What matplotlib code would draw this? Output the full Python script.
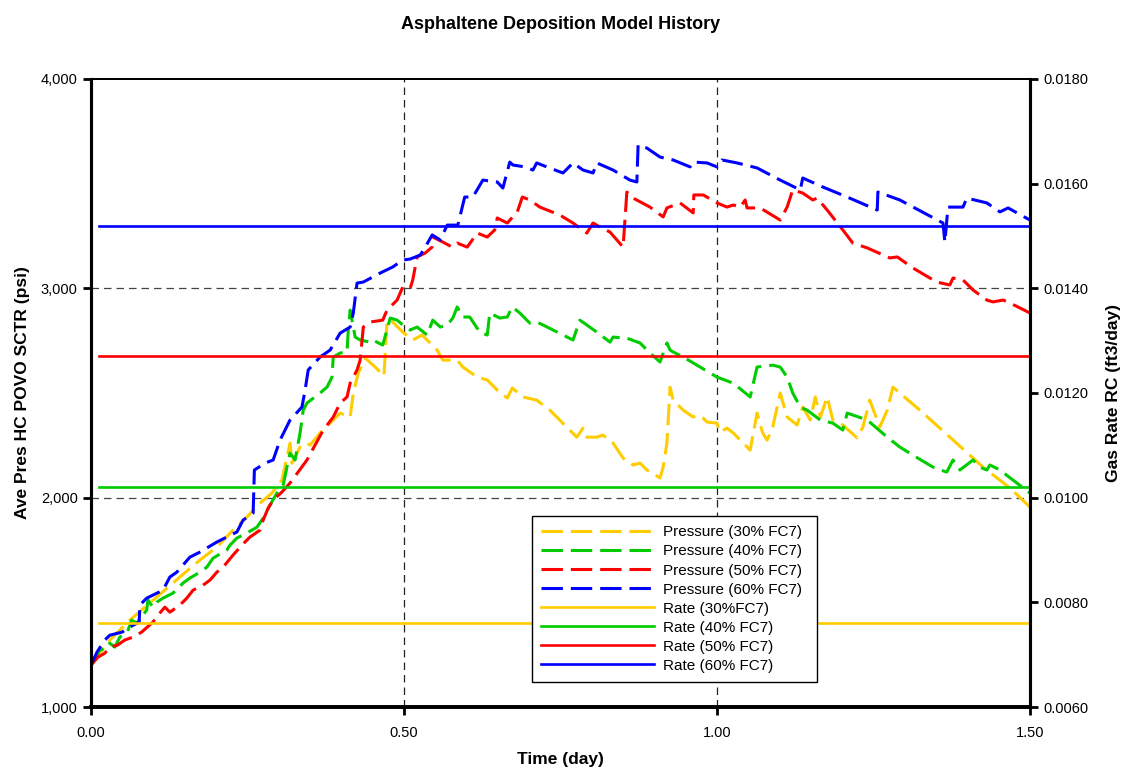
import matplotlib.pyplot as plt
from matplotlib.ticker import FuncFormatter, FormatStrFormatter

plt.rcParams['font.family'] = ['Liberation Sans', 'DejaVu Sans']

# pressure, 30% FC7
t30 = [0, 0.030, 0.062, 0.105, 0.142, 0.174, 0.201, 0.227, 0.249, 0.270, 0.289, 0.305,
       0.318, 0.321, 0.334, 0.345, 0.350, 0.366, 0.382, 0.398, 0.414, 0.419, 0.427, 0.438,
       0.454, 0.468, 0.473, 0.482, 0.498, 0.514, 0.529, 0.553, 0.562, 0.585, 0.594, 0.617,
       0.633, 0.649, 0.665, 0.673, 0.690, 0.712, 0.733, 0.760, 0.776, 0.786, 0.792, 0.808,
       0.818, 0.834, 0.850, 0.866, 0.877, 0.888, 0.909, 0.914, 0.920, 0.925, 0.930, 0.946,
       0.962, 0.968, 0.978, 0.984, 1.000, 1.005, 1.016, 1.026, 1.053, 1.064, 1.073, 1.080,
       1.089, 1.101, 1.112, 1.128, 1.137, 1.149, 1.157, 1.165, 1.176, 1.185, 1.201, 1.224,
       1.233, 1.244, 1.260, 1.272, 1.281, 1.324, 1.372, 1.425, 1.468, 1.500]
p30 = [1200, 1320, 1415, 1525, 1621, 1702, 1764, 1845, 1907, 1974, 2022, 2084,
       2261, 2165, 2242, 2261, 2251, 2309, 2356, 2404, 2385, 2500, 2595, 2667,
       2624, 2581, 2849, 2839, 2791, 2753, 2777, 2705, 2657, 2657, 2624, 2576,
       2562, 2514, 2476, 2524, 2481, 2466, 2418, 2337, 2289, 2332, 2289, 2289,
       2299, 2261, 2189, 2156, 2165, 2132, 2094, 2146, 2261, 2528, 2466, 2418,
       2385, 2394, 2380, 2361, 2356, 2313, 2332, 2309, 2227, 2404, 2309, 2275,
       2337, 2500, 2385, 2347, 2433, 2371, 2481, 2385, 2481, 2371, 2347, 2285,
       2337, 2466, 2337, 2418, 2528, 2418, 2289, 2146, 2046, 1955]

# pressure, 40% FC7
t40 = [0, 0.014, 0.026, 0.030, 0.038, 0.046, 0.058, 0.065, 0.073, 0.089, 0.091, 0.099,
       0.105, 0.115, 0.131, 0.147, 0.158, 0.174, 0.185, 0.195, 0.217, 0.222, 0.233, 0.249,
       0.265, 0.275, 0.286, 0.297, 0.307, 0.313, 0.318, 0.326, 0.334, 0.339, 0.345, 0.366,
       0.377, 0.385, 0.387, 0.398, 0.409, 0.411, 0.414, 0.422, 0.430, 0.446, 0.450, 0.466,
       0.478, 0.489, 0.502, 0.510, 0.521, 0.537, 0.546, 0.558, 0.569, 0.578, 0.585, 0.594,
       0.605, 0.621, 0.633, 0.637, 0.653, 0.665, 0.673, 0.685, 0.701, 0.712, 0.722, 0.738,
       0.754, 0.770, 0.781, 0.808, 0.829, 0.834, 0.856, 0.877, 0.893, 0.909, 0.920, 0.925,
       0.930, 0.946, 0.973, 1.000, 1.026, 1.053, 1.064, 1.089, 1.101, 1.112, 1.121, 1.133,
       1.144, 1.165, 1.185, 1.201, 1.208, 1.240, 1.272, 1.292, 1.313, 1.345, 1.367, 1.377,
       1.388, 1.409, 1.420, 1.431, 1.436, 1.452, 1.479, 1.500]
p40 = [1200, 1272, 1281, 1305, 1286, 1334, 1358, 1415, 1401, 1463, 1511, 1477,
       1501, 1520, 1544, 1592, 1616, 1644, 1668, 1711, 1750, 1773, 1807, 1831,
       1859, 1902, 1965, 2022, 2060, 2146, 2213, 2180, 2309, 2418, 2452, 2500,
       2528, 2576, 2672, 2691, 2696, 2801, 2896, 2767, 2753, 2743, 2753, 2729,
       2858, 2848, 2815, 2801, 2815, 2777, 2848, 2815, 2825, 2858, 2911, 2863,
       2863, 2791, 2777, 2882, 2858, 2863, 2911, 2882, 2834, 2839, 2825, 2801,
       2777, 2753, 2848, 2791, 2743, 2767, 2762, 2739, 2691, 2648, 2739, 2705,
       2696, 2672, 2624, 2576, 2547, 2481, 2624, 2633, 2624, 2576, 2500, 2433,
       2418, 2371, 2356, 2323, 2404, 2371, 2289, 2242, 2203, 2146, 2122, 2180,
       2132, 2180, 2146, 2132, 2156, 2132, 2070, 2022]

# pressure, 50% FC7
t50 = [0, 0.011, 0.022, 0.030, 0.042, 0.054, 0.067, 0.081, 0.099, 0.110, 0.118, 0.126,
       0.142, 0.153, 0.163, 0.179, 0.190, 0.201, 0.211, 0.227, 0.241, 0.254, 0.270, 0.275,
       0.283, 0.291, 0.305, 0.318, 0.345, 0.371, 0.387, 0.398, 0.409, 0.414, 0.425, 0.430,
       0.435, 0.446, 0.466, 0.473, 0.489, 0.498, 0.510, 0.514, 0.521, 0.534, 0.545, 0.546,
       0.562, 0.577, 0.585, 0.601, 0.617, 0.633, 0.645, 0.649, 0.665, 0.681, 0.689, 0.701,
       0.717, 0.749, 0.770, 0.792, 0.802, 0.813, 0.829, 0.850, 0.856, 0.866, 0.893, 0.914,
       0.920, 0.941, 0.962, 0.963, 0.978, 1.000, 1.016, 1.026, 1.037, 1.045, 1.048, 1.069,
       1.101, 1.112, 1.121, 1.137, 1.153, 1.160, 1.176, 1.201, 1.217, 1.240, 1.276, 1.288,
       1.313, 1.351, 1.372, 1.377, 1.393, 1.409, 1.431, 1.441, 1.457, 1.468, 1.500]
p50 = [1200, 1238, 1257, 1286, 1295, 1320, 1334, 1358, 1406, 1449, 1477, 1453,
       1487, 1520, 1558, 1582, 1606, 1644, 1668, 1726, 1773, 1812, 1845, 1893,
       1950, 1988, 2027, 2070, 2180, 2323, 2385, 2452, 2481, 2547, 2610, 2657,
       2815, 2839, 2848, 2896, 2944, 3006, 3001, 3040, 3150, 3169, 3197, 3245,
       3221, 3197, 3216, 3197, 3264, 3245, 3279, 3336, 3312, 3365, 3436, 3422,
       3388, 3350, 3312, 3264, 3312, 3293, 3269, 3197, 3460, 3431, 3388, 3341,
       3384, 3408, 3360, 3446, 3446, 3408, 3388, 3398, 3388, 3422, 3384, 3384,
       3326, 3388, 3470, 3455, 3422, 3431, 3374, 3279, 3216, 3193, 3145, 3150,
       3097, 3030, 3016, 3049, 3040, 2992, 2944, 2935, 2944, 2930, 2882]

# pressure, 60% FC7
t60 = [0, 0.0096, 0.022, 0.030, 0.050, 0.062, 0.077, 0.078, 0.089, 0.115, 0.126, 0.137,
       0.158, 0.174, 0.201, 0.217, 0.233, 0.243, 0.259, 0.261, 0.278, 0.291, 0.302, 0.318,
       0.337, 0.342, 0.347, 0.366, 0.382, 0.398, 0.414, 0.419, 0.425, 0.435, 0.462, 0.482,
       0.498, 0.510, 0.526, 0.534, 0.545, 0.558, 0.569, 0.586, 0.597, 0.610, 0.626, 0.649,
       0.658, 0.669, 0.674, 0.693, 0.706, 0.712, 0.728, 0.754, 0.770, 0.786, 0.802, 0.808,
       0.834, 0.861, 0.872, 0.874, 0.888, 0.909, 0.930, 0.957, 0.962, 0.984, 1.000, 1.008,
       1.032, 1.064, 1.101, 1.133, 1.137, 1.169, 1.208, 1.256, 1.257, 1.292, 1.361, 1.364,
       1.369, 1.393, 1.399, 1.431, 1.452, 1.465, 1.500]
p60 = [1200, 1262, 1320, 1343, 1358, 1382, 1406, 1487, 1520, 1558, 1621, 1644,
       1716, 1740, 1788, 1812, 1836, 1893, 1926, 2132, 2165, 2180, 2275, 2371,
       2433, 2514, 2610, 2672, 2705, 2786, 2815, 2882, 3025, 3030, 3073, 3102,
       3135, 3140, 3159, 3197, 3255, 3231, 3302, 3302, 3436, 3436, 3517, 3508,
       3479, 3603, 3589, 3580, 3565, 3599, 3580, 3551, 3599, 3565, 3551, 3599,
       3565, 3517, 3508, 3685, 3670, 3627, 3613, 3580, 3603, 3599, 3580, 3613,
       3599, 3575, 3517, 3470, 3527, 3484, 3436, 3374, 3460, 3422, 3312, 3221,
       3388, 3388, 3431, 3408, 3365, 3384, 3326]

# constant gas rates (right axis)
rate_t = [0.0125, 1.5]
rate30 = 0.0076
rate40 = 0.0102
rate50 = 0.0127
rate60 = 0.0152

yellow = '#FFCC00'
green = '#00CC00'
red = '#FF0000'
blue = '#0000FF'

fig = plt.figure(figsize=(11.22, 7.69), dpi=100)
ax = fig.add_axes([0.0811, 0.0806, 0.8369, 0.8167])
ax2 = ax.twinx()

dash = (7, 2.6)
lw_p = 2.2
ax.plot(t30, p30, color=yellow, lw=lw_p, dashes=dash, label='Pressure (30% FC7)')
ax.plot(t40, p40, color=green, lw=lw_p, dashes=dash, label='Pressure (40% FC7)')
ax.plot(t50, p50, color=red, lw=lw_p, dashes=dash, label='Pressure (50% FC7)')
ax.plot(t60, p60, color=blue, lw=lw_p, dashes=dash, label='Pressure (60% FC7)')

lw_r = 1.9
ax2.plot(rate_t, [rate30, rate30], color=yellow, lw=lw_r, label='Rate (30%FC7)')
ax2.plot(rate_t, [rate40, rate40], color=green, lw=lw_r, label='Rate (40% FC7)')
ax2.plot(rate_t, [rate50, rate50], color=red, lw=lw_r, label='Rate (50% FC7)')
ax2.plot(rate_t, [rate60, rate60], color=blue, lw=lw_r, label='Rate (60% FC7)')

ax.set_xlim(0, 1.5)
ax.set_ylim(1000, 4000)
ax2.set_ylim(0.006, 0.018)
ax.set_xticks([0, 0.5, 1.0, 1.5])
ax.set_yticks([1000, 2000, 3000, 4000])
ax2.set_yticks([0.006, 0.008, 0.010, 0.012, 0.014, 0.016, 0.018])
ax.xaxis.set_major_formatter(FormatStrFormatter('%.2f'))
ax.yaxis.set_major_formatter(FuncFormatter(lambda v, p: f'{v:,.0f}'))
ax2.yaxis.set_major_formatter(FormatStrFormatter('%.4f'))

# grid: dashed black lines at 0.5, 1.0 and 2000, 3000
for xv in [0.5, 1.0]:
    ax.axvline(xv, color='#222222', lw=0.9, dashes=(6, 4), zorder=0)
for yv in [2000, 3000]:
    ax.axhline(yv, color='#444444', lw=0.9, dashes=(6, 4), zorder=0)

for a in (ax, ax2):
    a.tick_params(direction='out', length=6, width=2, labelsize=10.5, colors='black')
    a.spines['left'].set_linewidth(2.2)
    a.spines['right'].set_linewidth(2.2)
    a.spines['bottom'].set_linewidth(2.6)
    a.spines['top'].set_linewidth(1.4)
ax.tick_params(axis='x', pad=8)

ax.set_title('Asphaltene Deposition Model History', fontsize=13, fontweight='bold', pad=36)
ax.set_xlabel('Time (day)', fontsize=12.5, fontweight='bold', labelpad=8)
ax.set_ylabel('Ave Pres HC POVO SCTR (psi)', fontsize=12.5, fontweight='bold', labelpad=8)
ax2.set_ylabel('Gas Rate RC (ft3/day)', fontsize=12.5, fontweight='bold', labelpad=13)

h1, l1 = ax.get_legend_handles_labels()
h2, l2 = ax2.get_legend_handles_labels()
leg = ax2.legend(h1 + h2, l1 + l2, loc='lower left', bbox_to_anchor=(0.4697, 0.040, 0.3035, 0.266),
                 mode='expand', fontsize=11, handlelength=7.4, handletextpad=0.55,
                 labelspacing=0.33, borderpad=0.6, borderaxespad=0, fancybox=False,
                 framealpha=1, edgecolor='black')
leg.get_frame().set_linewidth(1.0)

fig.savefig('out.png', dpi=100)
